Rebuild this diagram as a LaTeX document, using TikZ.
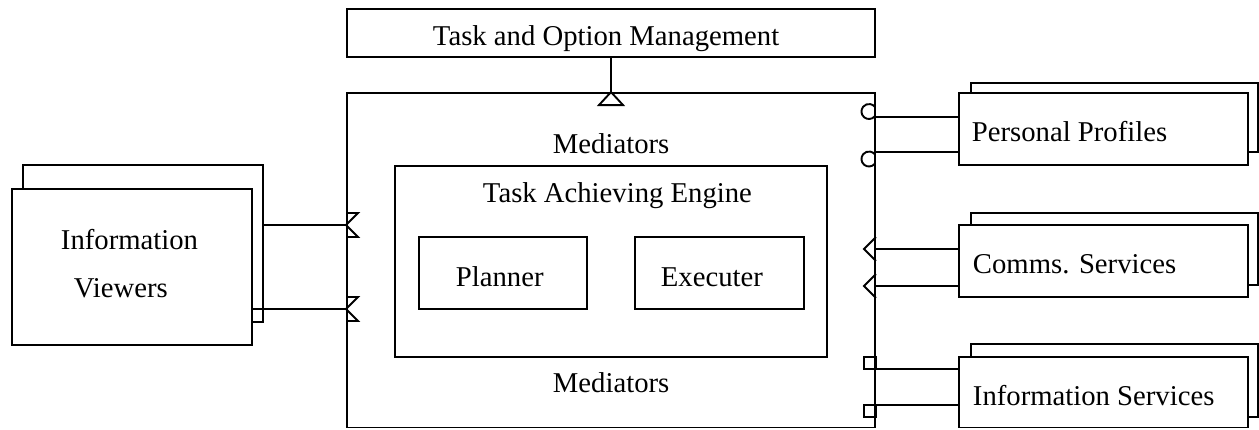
\documentclass[tikz,border=0pt]{standalone}
\usepackage{fontspec}
\setmainfont{Liberation Serif}
\usetikzlibrary{fit}
\begin{document}
\begin{tikzpicture}[x=1pt,y=-1pt, line width=1.9pt, line join=miter,
  box/.style={draw, fill=white, inner sep=0pt, rectangle},
  lbl/.style={inner sep=0pt, anchor=base west, font=\fontsize{28.7}{34}\selectfont},
  bowtie/.pic={\draw (0,-12) -- (12,-12) -- (0,0) -- (12,12) -- (0,12);},
  socket/.pic={\draw ([shift={(-7,0)}]40:7.5) arc[start angle=40, end angle=320, radius=7.5];},
  cone/.pic={\draw (0,-12) -- (-12,0) -- (0,12);},
  sqr/.pic={\draw (-12,-6) rectangle (0,6);}]
\useasboundingbox (0,0) rectangle (1259,429);

% Task and Option Management
\node[box, fit={(347,9)(875,57)}] (tom) {};
\node[lbl] (tomt) at (432,45) {Task and Option Management};

% Mediators
\node[box, fit={(347,93)(875,427.5)}] (med) {};
\node[lbl] (medt1) at (552,153) {Mediators};
\node[lbl] (medt2) at (552,392) {Mediators};

% Task achieving engine
\node[box, fit={(395,166)(827,357)}] (tae) {};
\node[lbl] (taet) at (482,202) {Task Achieving Engine};
\node[box, fit={(419,237)(587,309)}] (pl) {};
\node[lbl] (plt) at (455,286) {Planner};
\node[box, fit={(635,237)(804,309)}] (ex) {};
\node[lbl] (ext) at (660,286) {Executer};

% top link
\draw (tom.south) -- (med.north);
\draw (med.north) -- ++(-12,13) -- ++(24,0) -- cycle;

% Information Viewers
\node[box, fit={(23,165)(263,322)}] (ivb) {};
\node[box, fit={(12,189)(252,345)}] (ivf) {};
\node[lbl] (ivt1) at (60,249) {Information};
\node[lbl] (ivt2) at (73,297) {Viewers};

\coordinate (l1) at (0,225);
\coordinate (l2) at (0,309);
\draw (ivb.east |- l1) -- (med.west |- l1);
\draw (ivf.east |- l2) -- (med.west |- l2);
\pic at (med.west |- l1) {bowtie};
\pic at (med.west |- l2) {bowtie};

% Personal Profiles
\node[box, fit={(971,83)(1258,152)}] (ppb) {};
\node[box, fit={(959,93)(1248,165)}] (ppf) {};
\node[lbl] (ppt) at (971,141) {Personal Profiles};
\coordinate (p1) at (0,117);
\coordinate (p2) at (0,152);
\draw (med.east |- p1) -- (ppf.west |- p1);
\draw (med.east |- p2) -- (ppf.west |- p2);
\pic at (med.east |- 0,111.5) {socket};
\pic at (med.east |- 0,159) {socket};

% Comms. Services
\node[box, fit={(971,213)(1258,285)}] (csb) {};
\node[box, fit={(959,225)(1248,297)}] (csf) {};
\node[lbl] (cst) at (972,273) {Comms. Services};
\coordinate (c1) at (0,249);
\coordinate (c2) at (0,286);
\draw (med.east |- c1) -- (csf.west |- c1);
\draw (med.east |- c2) -- (csf.west |- c2);
\pic at (med.east |- c1) {cone};
\pic at (med.east |- c2) {cone};

% Information Services
\node[box, fit={(971,344)(1258,417)}] (isb) {};
\node[box, fit={(959,357)(1248,427.5)}] (isf) {};
\node[lbl] (ist) at (972,405) {Information Services};
\coordinate (s1) at (0,369);
\coordinate (s2) at (0,405);
\draw (med.east |- s1) -- (isf.west |- s1);
\draw (med.east |- s2) -- (isf.west |- s2);
\pic at (med.east |- 0,363) {sqr};
\pic at (med.east |- 0,411) {sqr};
\end{tikzpicture}
\end{document}
